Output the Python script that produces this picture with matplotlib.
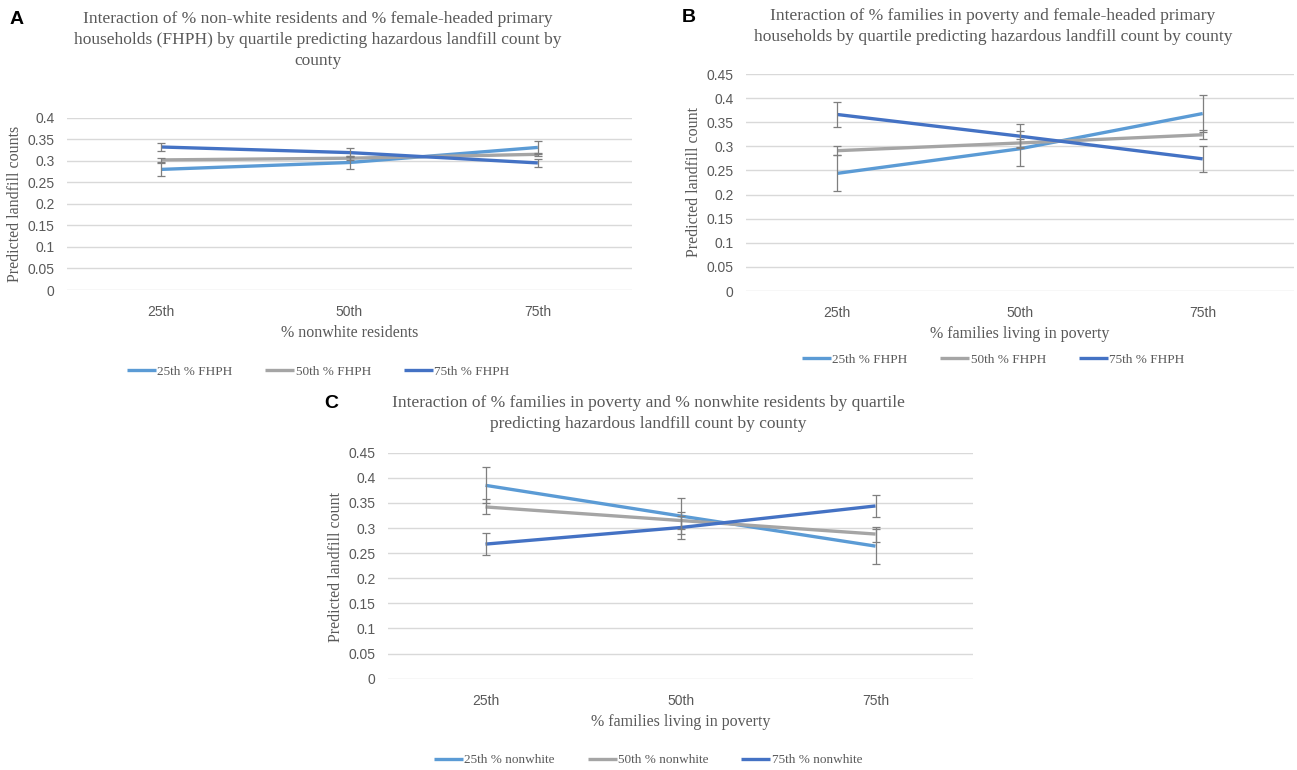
import matplotlib.pyplot as plt

W, H = 1297, 770

quartiles = ["25th", "50th", "75th"]

# panel A: % nonwhite x FHPH
a_labels = ["25th % FHPH", "50th % FHPH", "75th % FHPH"]
a_low = [0.280, 0.296, 0.331]
a_mid = [0.302, 0.306, 0.315]
a_high = [0.332, 0.319, 0.295]
a_low_err = [0.015, 0.015, 0.015]
a_mid_err = [0.004, 0.004, 0.004]
a_high_err = [0.010, 0.011, 0.010]

# panel B: poverty x FHPH
b_labels = ["25th % FHPH", "50th % FHPH", "75th % FHPH"]
b_low = [0.244, 0.295, 0.368]
b_mid = [0.291, 0.307, 0.324]
b_high = [0.366, 0.321, 0.274]
b_low_err = [0.037, 0.036, 0.038]
b_mid_err = [0.009, 0.008, 0.009]
b_high_err = [0.026, 0.025, 0.027]

# panel C: poverty x nonwhite
c_labels = ["25th % nonwhite", "50th % nonwhite", "75th % nonwhite"]
c_low = [0.385, 0.324, 0.264]
c_mid = [0.342, 0.315, 0.288]
c_high = [0.268, 0.301, 0.344]
c_low_err = [0.036, 0.035, 0.035]
c_mid_err = [0.015, 0.016, 0.015]
c_high_err = [0.022, 0.022, 0.022]

colors = ["#5B9BD5", "#A5A5A5", "#4472C4"]
txt = "#595959"
serif = "Liberation Serif"
sans = "Liberation Sans"

fig = plt.figure(figsize=(W / 100, H / 100), dpi=100)


def fx(px):
    return px / W


def fy(py):
    return 1 - py / H


def panel(rect, ymax, step, series, errs, labels, title, tx, ty, letter, lx, ly,
          ylabel, ylx, yly, xlabel, xly, legy):
    left, top, right, bottom = rect
    ax = fig.add_axes([fx(left), fy(bottom), fx(right - left), (bottom - top) / H])
    x = range(len(quartiles))
    for vals, err, col, lab in zip(series, errs, colors, labels):
        ax.plot(x, vals, color=col, lw=2.4, label=lab, solid_capstyle="butt", zorder=3)
    for vals, err in zip(series, errs):
        ax.errorbar(x, vals, yerr=err, fmt="none", ecolor="#7F7F7F", elinewidth=0.9,
                    capsize=3, capthick=0.9, zorder=4)
    ax.set_xlim(-0.5, len(quartiles) - 0.5)
    ax.set_ylim(0, ymax)
    ticks = [round(i * step, 2) for i in range(int(round(ymax / step)) + 1)]
    ax.set_yticks(ticks)
    ax.set_yticklabels([f"{t:g}" for t in ticks], fontfamily=sans, fontsize=10, color=txt)
    ax.set_xticks(list(x))
    ax.set_xticklabels(quartiles, fontfamily=sans, fontsize=10, color=txt)
    ax.tick_params(length=0, pad=9)
    ax.tick_params(axis="x", pad=11)
    ax.grid(axis="y", color="#D9D9D9", lw=1)
    ax.set_axisbelow(True)
    for s in ax.spines.values():
        s.set_visible(False)
    fig.text(fx(tx), fy(ty), title, ha="center", va="top", fontfamily=serif,
             fontsize=12.5, color=txt, linespacing=1.42)
    fig.text(fx(lx), fy(ly), letter, ha="center", va="center", fontfamily=sans,
             fontweight="bold", fontsize=14, color="black")
    fig.text(fx(ylx), fy(yly), ylabel, rotation=90, ha="center", va="center",
             fontfamily=serif, fontsize=11.5, color=txt)
    fig.text(fx((left + right) / 2), fy(xly), xlabel, ha="center", va="center",
             fontfamily=serif, fontsize=11.5, color=txt)
    ax.legend(loc="center", bbox_to_anchor=(fx(tx), fy(legy)),
              bbox_transform=fig.transFigure, ncol=3, frameon=False,
              prop={"family": serif, "size": 9.5}, labelcolor=txt,
              handlelength=2.2, handletextpad=0.1, columnspacing=2.5)
    return ax


panel((67, 117.7, 632, 290), 0.4, 0.05,
      [a_low, a_mid, a_high], [a_low_err, a_mid_err, a_high_err], a_labels,
      "Interaction of % non-white residents and % female-headed primary\n"
      "households (FHPH) by quartile predicting hazardous landfill count by\ncounty",
      318, 11, "A", 17, 20,
      "Predicted landfill counts", 15, 204, "% nonwhite residents", 333, 372)

panel((746, 74, 1294, 291), 0.45, 0.05,
      [b_low, b_mid, b_high], [b_low_err, b_mid_err, b_high_err], b_labels,
      "Interaction of % families in poverty and female-headed primary\n"
      "households by quartile predicting hazardous landfill count by county",
      993, 8, "B", 689, 18,
      "Predicted landfill count", 694, 182, "% families living in poverty", 334, 360)

panel((388, 452.7, 973, 678.7), 0.45, 0.05,
      [c_low, c_mid, c_high], [c_low_err, c_mid_err, c_high_err], c_labels,
      "Interaction of % families in poverty and % nonwhite residents by quartile\n"
      "predicting hazardous landfill count by county",
      648, 395, "C", 331, 404,
      "Predicted landfill count", 336, 567, "% families living in poverty", 722, 760)

fig.savefig("out.png", dpi=100)
